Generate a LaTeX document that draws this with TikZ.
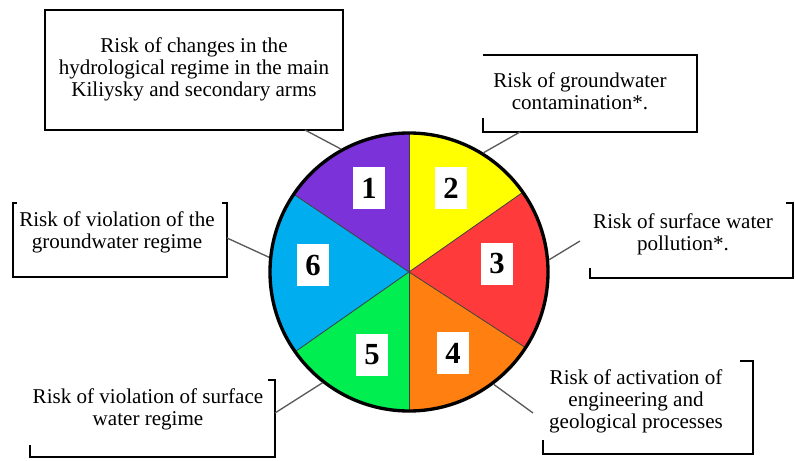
\documentclass[tikz,border=0pt]{standalone}
\usepackage{fontspec}
\setmainfont{Liberation Serif}

\definecolor{segviolet}{RGB}{123,50,216}
\definecolor{segyellow}{RGB}{255,255,0}
\definecolor{segred}{RGB}{255,58,58}
\definecolor{segorange}{RGB}{255,128,16}
\definecolor{seggreen}{RGB}{0,238,80}
\definecolor{segblue}{RGB}{0,174,239}

\begin{document}
\begin{tikzpicture}[x=0.75pt, y=0.75pt,
    risk/.style={align=center, inner sep=0pt, font=\fontsize{15.8}{16.5}\selectfont},
    num/.style={fill=white, inner sep=0pt, minimum width=24pt, minimum height=31pt,
        font=\fontsize{23}{23}\selectfont\bfseries},
    frame/.style={black, line width=1pt},
    divider/.style={black!75, line width=0.6pt},
    link/.style={draw=black!65, line width=1pt}]
    \useasboundingbox (0,0) rectangle (795,460);
    \def\rad{104.25pt}

    % Six coloured sectors of the wheel
    \coordinate (c) at (409,188);
    \foreach \from/\to/\col in {90/146/segviolet, 35/90/segyellow, -33/35/segred,
        -90/-33/segorange, 215/270/seggreen, 146/215/segblue}
        \fill[\col] (c) -- ++(\from:\rad) arc (\from:\to:\rad) -- cycle;
    \foreach \a in {90,35,-33,-90,215,146}
        \draw[divider] (c) -- ++(\a:\rad);
    \node[draw, circle, line width=2.5pt, minimum size=208.5pt, inner sep=0pt] (wheel) at (c) {};

    % Numbers on the sectors
    \node[num] (n1) at (369,272) {1};
    \node[num] (n2) at (451,272) {2};
    \node[num] (n3) at (497,196) {3};
    \node[num] (n4) at (453,107) {4};
    \node[num] (n5) at (372,105) {5};
    \node[num] (n6) at (313,195) {6};

    % Frames round the risks (some sides left open)
    \draw[frame] (45,450) rectangle (343,330);
    \draw[frame] (483,342) -- (483,328) -- (697,328) -- (697,405) -- (483,405);
    \draw[frame] (786,257) -- (793,257) -- (793,182) -- (590,182) -- (590,192);
    \draw[frame] (740,99) -- (753,99) -- (753,6) -- (543,6) -- (543,20);
    \draw[frame] (268,80) -- (275,80) -- (275,3) -- (30,3) -- (30,15);
    \draw[frame] (17,257) -- (13,257) -- (13,183) -- (227,183) -- (227,257) -- (222,257);

    % Risk texts
    \node[risk] (r1) at (194,391) {Risk of changes in the\\hydrological regime in the main\\Kiliysky and secondary arms};
    \node[risk] (r2) at (580,369) {Risk of groundwater\\contamination*.};
    \node[risk] (r3) at (683,226) {Risk of surface water\\pollution*.};
    \node[risk] (r4) at (636,59) {Risk of activation of\\engineering and\\geological processes};
    \node[risk] (r5) at (148,51) {Risk of violation of surface\\water regime};
    \node[risk] (r6) at (117,228) {Risk of violation of the\\groundwater regime};

    % Leader lines from the frames to the wheel
    \coordinate (e1) at (305,330);
    \coordinate (e2) at (520,328);
    \coordinate (e3) at (580,219);
    \coordinate (e4) at (533,47);
    \coordinate (e5) at (275,47);
    \coordinate (e6) at (227,222);
    \draw[link] (e1) -- (wheel.119.5);
    \draw[link] (e2) -- (wheel.58.8);
    \draw[link] (e3) -- (wheel.5.7);
    \draw[link] (e4) -- (wheel.-53.4);
    \draw[link] (e5) -- (wheel.232);
    \draw[link] (e6) -- (wheel.174);
\end{tikzpicture}
\end{document}
